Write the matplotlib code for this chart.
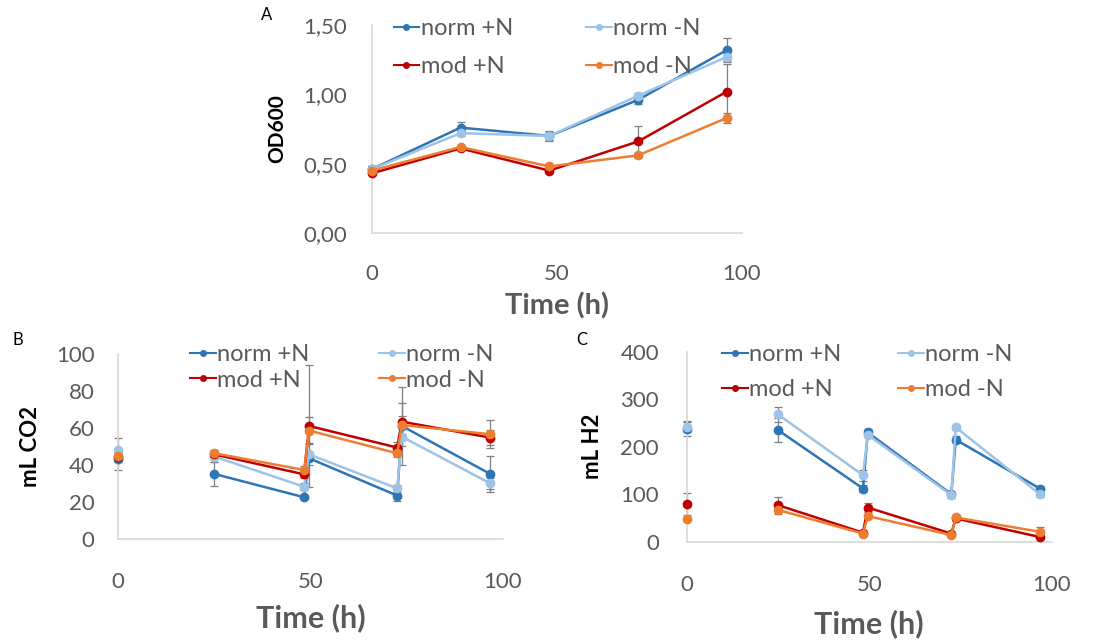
import numpy as np
import matplotlib
matplotlib.use("Agg")
import matplotlib.pyplot as plt

plt.rcParams['font.family'] = ['Lato', 'DejaVu Sans']

# ---- data ----
series_names = ["norm +N", "norm -N", "mod +N", "mod -N"]
series_colors = ["#2E75B6", "#9DC3E6", "#C00000", "#ED7D31"]

# panel A: OD600
t_od = [0, 24, 48, 72, 96]
od_norm_p = [0.46, 0.76, 0.70, 0.96, 1.32]
od_norm_m = [0.46, 0.72, 0.70, 0.99, 1.27]
od_mod_p = [0.43, 0.61, 0.45, 0.66, 1.02]
od_mod_m = [0.45, 0.62, 0.48, 0.56, 0.83]
od_err_norm_p = [0.02, 0.04, 0.035, 0.03, 0.085]
od_err_norm_m = [0.02, 0.02, 0.03, 0.02, 0.03]
od_err_mod_p = [0.01, 0.01, 0.01, 0.115, 0.2]
od_err_mod_m = [0.01, 0.01, 0.01, 0.02, 0.035]

# panels B and C: gas sampling times (before / after headspace refill)
t_gas = [0, 25, 48.3, 49.6, 72.5, 73.7, 96.7]

co2_norm_p = [43.1, 35.2, 22.6, 43.7, 23.5, 61.2, 35.2]
co2_norm_m = [48.2, 44.6, 28.3, 45.8, 27.4, 55.4, 30.1]
co2_mod_p = [44.6, 45.8, 35.0, 61.2, 49.5, 63.5, 54.9]
co2_mod_m = [45.0, 46.4, 37.4, 58.7, 46.4, 61.7, 56.7]
co2_err_norm_p = [5.7, 6.3, 1.0, 1.0, 3.0, 21.0, 9.6]
co2_err_norm_m = [6.3, 3.0, 2.0, 6.0, 2.0, 5.0, 3.0]
co2_err_mod_p = [2.0, 2.0, 2.0, 33.0, 3.0, 10.0, 4.0]
co2_err_mod_m = [2.0, 2.0, 2.0, 7.5, 2.0, 5.0, 7.7]

h2_norm_p = [238, 235, 112, 230, 100, 215, 112]
h2_norm_m = [242, 268, 140, 225, 98, 241, 100]
h2_mod_p = [79, 77, 19, 72, 17, 49, 10]
h2_mod_m = [47, 67, 17, 54, 14, 51, 21]
h2_err_norm_p = [15, 25, 8, 8, 5, 8, 5]
h2_err_norm_m = [12, 15, 12, 5, 5, 5, 5]
h2_err_mod_p = [23, 18, 3, 10, 3, 5, 3]
h2_err_mod_m = [3, 5, 3, 5, 3, 5, 10]

GRAY = "#595959"


def style_axes(ax, ymax, ystep, yfmt, xpad, ypad, size):
    ax.set_xlim(0, 100)
    ax.set_ylim(0, ymax)
    ax.set_xticks([0, 50, 100])
    ticks = np.arange(0, ymax + ystep / 2, ystep)
    ax.set_yticks(ticks)
    if yfmt is not None:
        ax.set_yticklabels([yfmt(v) for v in ticks])
    for s in ["top", "right"]:
        ax.spines[s].set_visible(False)
    for s in ["left", "bottom"]:
        ax.spines[s].set_color("#D9D9D9")
        ax.spines[s].set_linewidth(1.2)
    ax.tick_params(axis="x", length=0, pad=xpad, labelsize=size, labelcolor=GRAY)
    ax.tick_params(axis="y", length=0, pad=ypad, labelsize=size, labelcolor=GRAY)


def draw(ax, t, ys, errs, gap):
    for y, e in zip(ys, errs):
        ax.errorbar(t, y, yerr=e, fmt="none", ecolor="#7F7F7F", elinewidth=0.9,
                    capsize=3, capthick=0.9, clip_on=False, zorder=2)
    for y, c, name in zip(ys, series_colors, series_names):
        if gap:
            ax.plot(t[:1], y[:1], "o", color=c, ms=6, clip_on=False, zorder=3)
            ax.plot(t[1:], y[1:], "-o", color=c, lw=1.8, ms=6, clip_on=False, zorder=3)
        else:
            ax.plot(t, y, "-o", color=c, lw=1.8, ms=6, clip_on=False, zorder=3)


def add_legend(ax, fig, x, y, colsp, labsp):
    # matplotlib fills legend columns first; reorder so rows read norm / mod
    order = [0, 2, 1, 3]
    handles = [plt.Line2D([], [], color=series_colors[i], lw=1.5, marker="o", ms=4)
               for i in order]
    labels = [series_names[i] for i in order]
    leg = ax.legend(handles, labels, loc="upper left", bbox_to_anchor=(x, y),
                    bbox_transform=fig.transFigure, ncol=2, frameon=False,
                    borderpad=0, handlelength=1.1, handletextpad=0.05,
                    columnspacing=colsp, labelspacing=labsp, fontsize=17)
    for txt in leg.get_texts():
        txt.set_color(GRAY)


fig = plt.figure(figsize=(11, 6.4), dpi=100)
W, H = 1100.0, 640.0

def make_axes(x0, x1, y0, y1):
    # pixel box -> figure fraction
    return fig.add_axes([x0 / W, 1 - y1 / H, (x1 - x0) / W, (y1 - y0) / H])

# panel A
axA = make_axes(371.7, 741.7, 25, 233)
draw(axA, t_od, [od_norm_p, od_norm_m, od_mod_p, od_mod_m],
     [od_err_norm_p, od_err_norm_m, od_err_mod_p, od_err_mod_m], gap=False)
style_axes(axA, 1.5, 0.5, lambda v: f"{v:.2f}".replace(".", ","), xpad=22, ypad=18, size=16)
axA.set_xlabel("Time (h)", fontsize=21, fontweight="bold", color=GRAY, labelpad=6)
axA.set_ylabel("OD600", fontsize=15, fontweight="bold", color="black")
axA.yaxis.set_label_coords(-0.229, 0.5)
add_legend(axA, fig, 381.7 / W, 1 - 6 / H, 3.1, 0.72)
fig.text(266.7 / W, 1 - 15 / H, "A", fontsize=12, ha="center", va="center")

# panel B
axB = make_axes(118.3, 503, 354.3, 539)
draw(axB, t_gas, [co2_norm_p, co2_norm_m, co2_mod_p, co2_mod_m],
     [co2_err_norm_p, co2_err_norm_m, co2_err_mod_p, co2_err_mod_m], gap=True)
style_axes(axB, 100, 20, None, xpad=24, ypad=17, size=16)
axB.set_xlabel("Time (h)", fontsize=22, fontweight="bold", color=GRAY, labelpad=8)
axB.set_ylabel("mL CO2", fontsize=16, fontweight="bold", color="black")
axB.yaxis.set_label_coords(-0.202, 0.5)
add_legend(axB, fig, 178 / W, 1 - 332 / H, 2.95, 0.2)
fig.text(18.3 / W, 1 - 340 / H, "B", fontsize=12, ha="center", va="center")

# panel C
axC = make_axes(686.7, 1051.7, 351.7, 541.7)
draw(axC, t_gas, [h2_norm_p, h2_norm_m, h2_mod_p, h2_mod_m],
     [h2_err_norm_p, h2_err_norm_m, h2_err_mod_p, h2_err_mod_m], gap=True)
style_axes(axC, 400, 100, None, xpad=24, ypad=20, size=16)
axC.set_xlabel("Time (h)", fontsize=22, fontweight="bold", color=GRAY, labelpad=10)
axC.set_ylabel("mL H2", fontsize=16, fontweight="bold", color="black")
axC.yaxis.set_label_coords(-0.23, 0.5)
add_legend(axC, fig, 710 / W, 1 - 332 / H, 2.4, 0.6)
fig.text(581.7 / W, 1 - 340 / H, "C", fontsize=12, ha="center", va="center")

fig.savefig("out.png", dpi=100, facecolor="white")
